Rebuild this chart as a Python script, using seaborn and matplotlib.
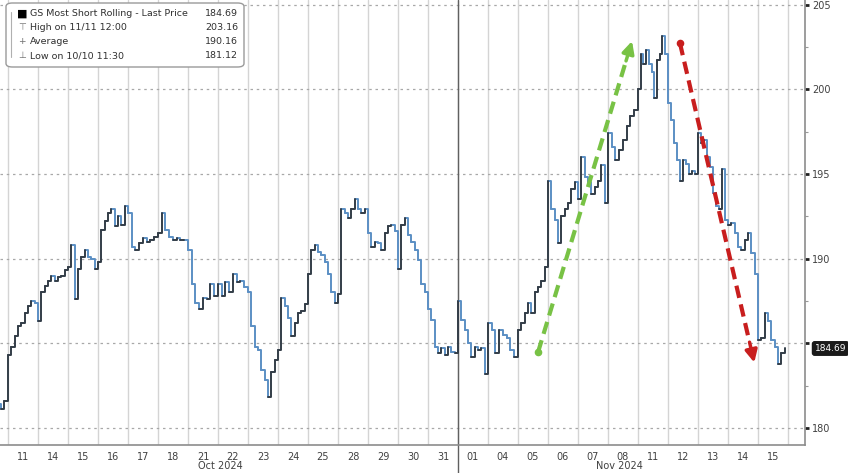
import numpy as np
import pandas as pd
import seaborn as sns
import matplotlib.pyplot as plt
from matplotlib.patches import FancyBboxPatch
from matplotlib.transforms import blended_transform_factory

# trading days shown (Oct 10 is only partly visible at the left edge)
day_labels = ['10', '11', '14', '15', '16', '17', '18', '21', '22', '23', '24', '25',
              '28', '29', '30', '31', '01', '04', '05', '06', '07', '08', '11', '12',
              '13', '14', '15']
month_labels = ['Oct 2024', 'Nov 2024']
month_label_pos = [8.07, 21.4]
month_break = 16  # first trading day of November

# intraday prices, one list per trading day
intraday = [
    [182.4, 182.0, 181.8, 182.1, 181.7, 181.4, 181.12, 181.6],
    [184.3, 184.8, 185.4, 186.0, 186.2, 186.8, 187.2, 187.5, 187.4],
    [186.3, 188.0, 188.4, 188.7, 189.0, 188.7, 188.9, 189.0, 189.3],
    [189.5, 190.8, 187.6, 189.4, 190.1, 190.5, 190.1, 190.0, 189.4],
    [189.8, 191.7, 192.2, 192.7, 192.9, 191.9, 192.5, 192.0, 193.1],
    [192.7, 190.7, 190.5, 190.9, 191.2, 191.0, 191.1, 191.3],
    [191.5, 192.7, 191.7, 191.3, 191.1, 191.2, 191.1, 191.1],
    [190.5, 188.5, 187.4, 187.0, 187.7, 187.6, 188.5, 187.8],
    [188.5, 187.8, 188.6, 188.0, 189.1, 188.6, 188.7, 188.3],
    [188.0, 186.0, 184.8, 184.6, 183.4, 182.8, 181.8, 183.3, 184.0],
    [184.6, 187.7, 187.2, 186.5, 185.4, 186.2, 186.8, 186.9, 187.3],
    [189.1, 190.5, 190.8, 190.4, 190.2, 189.8, 189.1, 188.0, 187.4],
    [187.9, 192.9, 192.7, 192.4, 192.9, 193.5, 192.9, 192.7, 192.9],
    [191.5, 190.7, 191.0, 190.9, 190.5, 191.5, 191.9, 192.0, 191.6],
    [189.4, 192.0, 192.4, 191.4, 191.0, 190.5, 189.9, 188.5, 188.0],
    [187.0, 186.4, 184.8, 184.4, 184.7, 184.3, 184.8, 184.5, 184.4],
    [187.5, 186.4, 185.8, 185.0, 184.2, 184.8, 184.6, 184.7, 183.2],
    [186.2, 185.8, 184.4, 185.8, 185.5, 185.3, 184.6, 184.2],
    [185.8, 186.2, 186.8, 187.4, 186.8, 188.0, 188.3, 188.7, 189.5],
    [194.6, 192.9, 192.3, 190.9, 192.5, 192.9, 193.3, 194.1, 194.5],
    [193.5, 196.0, 194.8, 194.5, 193.8, 194.2, 194.6, 195.5, 193.3],
    [197.4, 196.6, 195.8, 196.4, 197.0, 197.8, 198.4, 198.8],
    [200.0, 202.1, 201.5, 202.3, 201.5, 201.0, 199.5, 201.7, 202.1, 203.16, 202.1],
    [199.2, 198.2, 196.8, 195.8, 194.6, 195.8, 195.6, 195.0, 195.2, 195.0],
    [197.4, 196.8, 197.0, 196.0, 195.4, 193.9, 193.1, 192.9, 195.3, 192.3],
    [192.0, 192.1, 191.5, 190.7, 190.5, 191.1, 191.5, 190.3, 189.1],
    [185.2, 185.3, 186.8, 186.3, 185.2, 184.8, 183.8, 184.4, 184.69],
]

legend_names = ['GS Most Short Rolling - Last Price', 'High on 11/11 12:00',
                'Average', 'Low on 10/10 11:30']
legend_values = ['184.69', '203.16', '190.16', '181.12']
last_price = 184.69

# trend arrows drawn on top (start, tip) in (day index, price)
green_arrow = [(18.67, 184.47), (21.83, 203.0)]
red_arrow = [(23.4, 202.73), (25.9, 183.7)]

# build the time axis: each trading day is one unit wide
pos, price = [], []
for i, vals in enumerate(intraday):
    n = len(vals)
    for k, v in enumerate(vals):
        pos.append(i + k / n)
        price.append(v)

# split into step segments so rises and falls get their own shade
seg_rows = []
for k in range(len(price) - 1):
    d = 'up' if price[k + 1] >= price[k] else 'down'
    seg_rows.append({'pos': pos[k], 'price': price[k], 'seg': k, 'dir': d})
    seg_rows.append({'pos': pos[k + 1], 'price': price[k + 1], 'seg': k, 'dir': d})
segs = pd.DataFrame(seg_rows)

sns.set_style('white')
plt.rcParams['font.family'] = ['DejaVu Sans']

fig = plt.figure(figsize=(8.48, 4.73), dpi=100)
ax = fig.add_axes([0.0, 1 - 445 / 473, 805 / 848, 445 / 473])

sns.lineplot(data=segs, x='pos', y='price', hue='dir', units='seg', ax=ax,
             palette={'up': '#333d48', 'down': '#5b8fc4'}, linewidth=1.4,
             drawstyle='steps-post', estimator=None, sort=False, legend=False, zorder=3)

ax.set_xlim(0.733, 27.57)
ax.set_ylim(178.99, 205.27)

# vertical day separators and dotted horizontal grid
ax.set_xticks(range(1, len(day_labels) + 1))
ax.set_xticklabels([])
ax.set_xticks([i + 0.5 for i in range(1, len(day_labels))], minor=True)
ax.set_xticklabels(day_labels[1:], minor=True)
ax.tick_params(axis='x', which='both', length=0, labelsize=7, labelcolor='#404040', pad=5)
ax.grid(axis='x', which='major', color='#d4d4d4', linewidth=1.0, linestyle='-')
y_major = [180, 185, 190, 195, 200, 205]
ax.set_yticks(y_major)
# the 185 label is hidden behind the last-price tag
ax.set_yticklabels(['' if v == 185 else str(v) for v in y_major])
ax.set_yticks([182.5, 187.5, 192.5, 197.5, 202.5], minor=True)
ax.grid(axis='y', which='major', color='#a8a8a8', linewidth=0.9, linestyle=(0, (2, 3)))
ax.yaxis.tick_right()
ax.tick_params(axis='y', which='major', direction='out', length=3, width=2, color='#222222',
               labelsize=7, labelcolor='#404040', pad=2)
ax.tick_params(axis='y', which='minor', direction='out', length=2, width=0.8, color='#999999')
ax.set_xlabel('')
ax.set_ylabel('')

for side in ['top', 'left']:
    ax.spines[side].set_visible(False)
for side in ['bottom', 'right']:
    ax.spines[side].set_color('#8c8c8c')
    ax.spines[side].set_linewidth(1.2)

# month separator running below the axis
trans = blended_transform_factory(ax.transData, ax.transAxes)
ax.plot([month_break, month_break], [-0.065, 1.0], transform=trans, color='#606060',
        linewidth=1.0, clip_on=False, zorder=2)
for lab, p in zip(month_labels, month_label_pos):
    ax.text(p, -0.047, lab, transform=trans, ha='center', va='center', fontsize=7,
            color='#404040')

# dashed trend arrows
for (start, tip), col in [(green_arrow, '#78c245'), (red_arrow, '#c81e1e')]:
    back = (start[0] + 0.92 * (tip[0] - start[0]), start[1] + 0.92 * (tip[1] - start[1]))
    ax.plot([start[0], back[0]], [start[1], back[1]], color=col, linewidth=3.0,
            linestyle=(0, (3, 1.6)), zorder=5, solid_capstyle='butt')
    ax.annotate('', xy=tip, xytext=back,
                arrowprops=dict(arrowstyle='-|>', color=col, lw=2.5, mutation_scale=18),
                zorder=5)
    ax.scatter([start[0]], [start[1]], s=20, color=col, zorder=6)

# last price tag on the right axis
ax.annotate(f'{last_price:.2f}', xy=(1.0, last_price), xycoords=('axes fraction', 'data'),
            xytext=(7, 0), textcoords='offset points', ha='left', va='center', fontsize=6.5,
            color='white', annotation_clip=False,
            bbox=dict(boxstyle='round,pad=0.25', fc='#1a1a1a', ec='#1a1a1a'))

# legend box in the top-left corner
box = FancyBboxPatch((6 / 805, 1 - 67 / 445), 238 / 805, 64 / 445,
                     boxstyle='round,pad=0,rounding_size=0.008', transform=ax.transAxes,
                     fc='white', ec='#9a9a9a', lw=1.0, zorder=7)
ax.add_patch(box)
icons = ['\u25a0', '\u22a4', '+', '\u22a5']
row_y = [14, 28, 42, 56]
ax.plot([11 / 805, 11 / 805], [1 - 12 / 445, 1 - 57 / 445], transform=ax.transAxes,
        color='#b0b0b0', lw=0.8, zorder=8)
for icon, name, val, yy in zip(icons, legend_names, legend_values, row_y):
    yf = 1 - yy / 445
    ax.text(22 / 805, yf, icon, transform=ax.transAxes, ha='center', va='center',
            fontsize=8 if icon == '\u25a0' else 6.5,
            color='black' if icon == '\u25a0' else '#707070', zorder=8)
    ax.text(30 / 805, yf, name, transform=ax.transAxes, ha='left', va='center',
            fontsize=6.8, color='#303030', zorder=8)
    ax.text(238 / 805, yf, val, transform=ax.transAxes, ha='right', va='center',
            fontsize=6.8, color='#303030', zorder=8)

fig.savefig('out.png', dpi=100)
